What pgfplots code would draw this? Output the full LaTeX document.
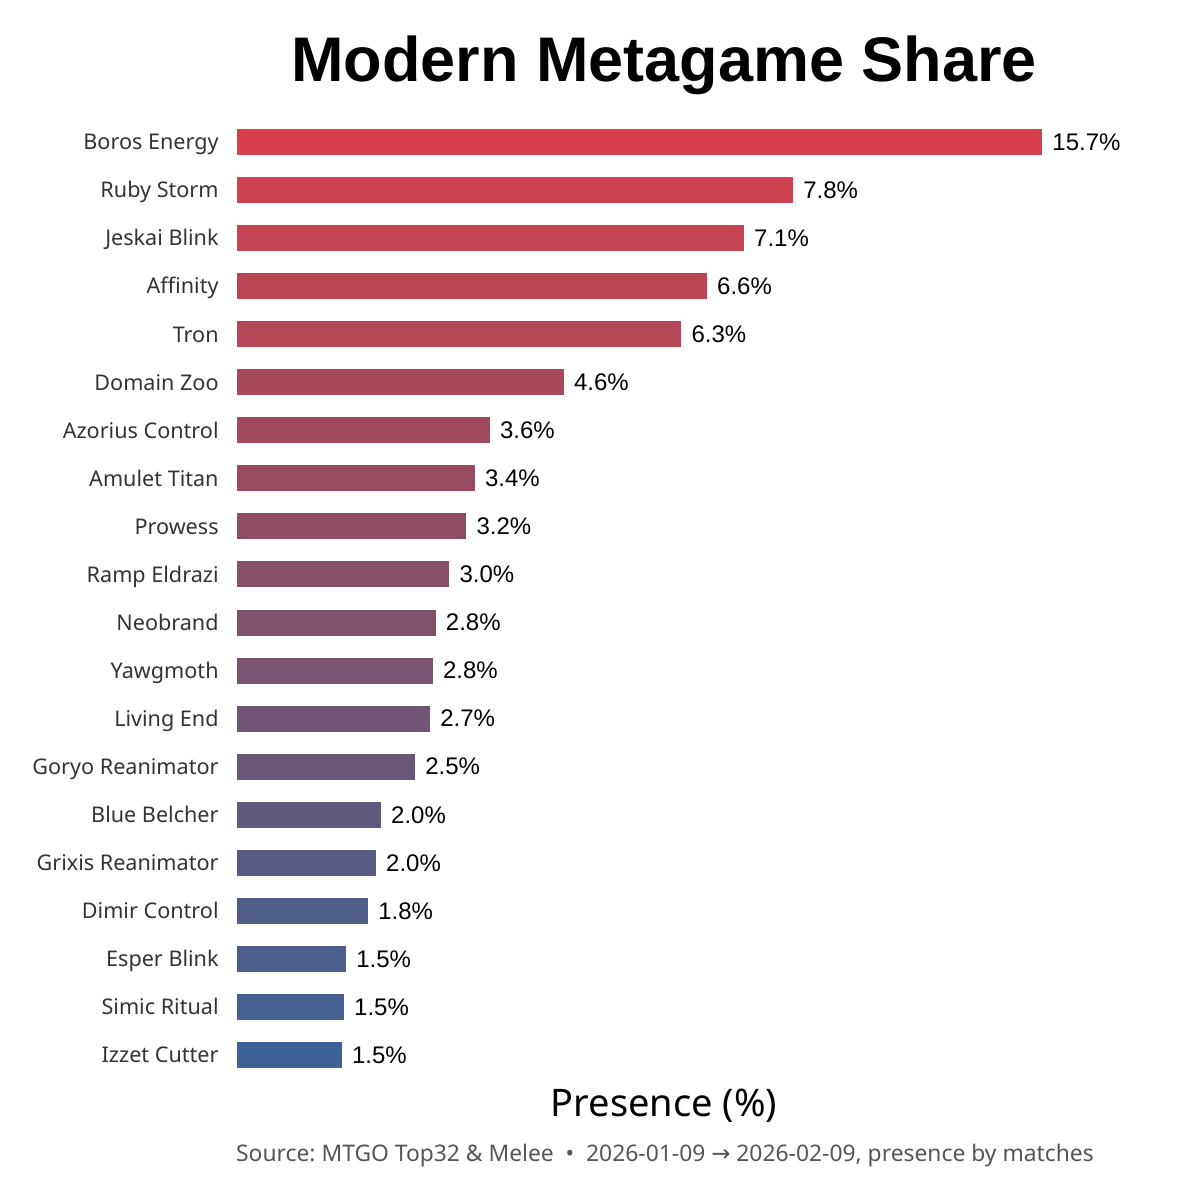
\documentclass[border=0pt]{standalone}
\usepackage{fontspec}
\setmainfont{Noto Sans}
\newfontfamily\valfont{Liberation Sans}
\newfontfamily\titlefont{Liberation Sans}
\newfontfamily\arrowfont{DejaVu Sans}
\usepackage{pgfplots}
\pgfplotsset{compat=1.18}
\definecolor{c0}{HTML}{D6404A}
\definecolor{c1}{HTML}{CE414F}
\definecolor{c2}{HTML}{C54352}
\definecolor{c3}{HTML}{BC4554}
\definecolor{c4}{HTML}{B44758}
\definecolor{c5}{HTML}{A8485B}
\definecolor{c6}{HTML}{A0495E}
\definecolor{c7}{HTML}{984B60}
\definecolor{c8}{HTML}{8E4D64}
\definecolor{c9}{HTML}{875067}
\definecolor{c10}{HTML}{80516B}
\definecolor{c11}{HTML}{795370}
\definecolor{c12}{HTML}{705574}
\definecolor{c13}{HTML}{685778}
\definecolor{c14}{HTML}{5F597E}
\definecolor{c15}{HTML}{575B83}
\definecolor{c16}{HTML}{505D88}
\definecolor{c17}{HTML}{4A5F8C}
\definecolor{c18}{HTML}{446191}
\definecolor{c19}{HTML}{3D6396}
\definecolor{ticktext}{HTML}{333333}
\definecolor{srctext}{HTML}{555555}
\begin{document}
\frenchspacing
\begin{tikzpicture}
\path[use as bounding box] (0pt,0pt) rectangle (600pt,-600pt);
\begin{axis}[
  scale only axis,
  width=402.5pt, height=480.5pt,
  at={(118.5pt,-59pt)}, anchor=north west,
  xmin=0, xmax=11.31,
  ymin=-0.5, ymax=19.5,
  y dir=reverse,
  restrict x to domain*=0:11.31,
  clip=false,
  axis line style={draw=none},
  major tick length=0pt,
  xtick=\empty,
  ytick={0,...,19},
  yticklabels={Boros Energy,Ruby Storm,Jeskai Blink,Affinity,Tron,Domain Zoo,Azorius Control,Amulet Titan,Prowess,Ramp Eldrazi,Neobrand,Yawgmoth,Living End,Goryo Reanimator,Blue Belcher,Grixis Reanimator,Dimir Control,Esper Blink,Simic Ritual,Izzet Cutter},
  yticklabel style={font=\fontsize{10.8}{13}\selectfont, text=ticktext, inner sep=0pt, xshift=-9pt, yshift=-3.9pt, anchor=base east},
  every axis plot/.append style={xbar, bar width=13pt, bar shift=0pt, draw=none},
  point meta=explicit symbolic,
  nodes near coords,
  nodes near coords style={anchor=west, inner sep=0pt, xshift=5pt, font=\valfont\fontsize{12}{14}\selectfont, text=black},
]
\addplot[fill=c0] coordinates {(15.7,0) [15.7\%]};
\addplot[fill=c1] coordinates {(7.81,1) [7.8\%]};
\addplot[fill=c2] coordinates {(7.12,2) [7.1\%]};
\addplot[fill=c3] coordinates {(6.60,3) [6.6\%]};
\addplot[fill=c4] coordinates {(6.24,4) [6.3\%]};
\addplot[fill=c5] coordinates {(4.59,5) [4.6\%]};
\addplot[fill=c6] coordinates {(3.55,6) [3.6\%]};
\addplot[fill=c7] coordinates {(3.34,7) [3.4\%]};
\addplot[fill=c8] coordinates {(3.22,8) [3.2\%]};
\addplot[fill=c9] coordinates {(2.98,9) [3.0\%]};
\addplot[fill=c10] coordinates {(2.79,10) [2.8\%]};
\addplot[fill=c11] coordinates {(2.75,11) [2.8\%]};
\addplot[fill=c12] coordinates {(2.71,12) [2.7\%]};
\addplot[fill=c13] coordinates {(2.50,13) [2.5\%]};
\addplot[fill=c14] coordinates {(2.02,14) [2.0\%]};
\addplot[fill=c15] coordinates {(1.95,15) [2.0\%]};
\addplot[fill=c16] coordinates {(1.84,16) [1.8\%]};
\addplot[fill=c17] coordinates {(1.53,17) [1.5\%]};
\addplot[fill=c18] coordinates {(1.50,18) [1.5\%]};
\addplot[fill=c19] coordinates {(1.47,19) [1.5\%]};
\end{axis}
\node[anchor=base, inner sep=0pt, font=\titlefont\fontsize{31.5}{36}\selectfont\bfseries] at (332pt,-40.5pt) {Modern Metagame Share};
\node[anchor=base, inner sep=0pt, font=\fontsize{19}{22}\selectfont] at (332pt,-558pt) {Presence (\%)};
\node[anchor=base, inner sep=0pt, font=\fontsize{11.42}{13}\selectfont, text=srctext] at (332.5pt,-580.5pt) {Source: MTGO Top32 \& Melee \ • \ 2026-01-09 {\arrowfont →} 2026-02-09, presence by matches};
\end{tikzpicture}
\end{document}
